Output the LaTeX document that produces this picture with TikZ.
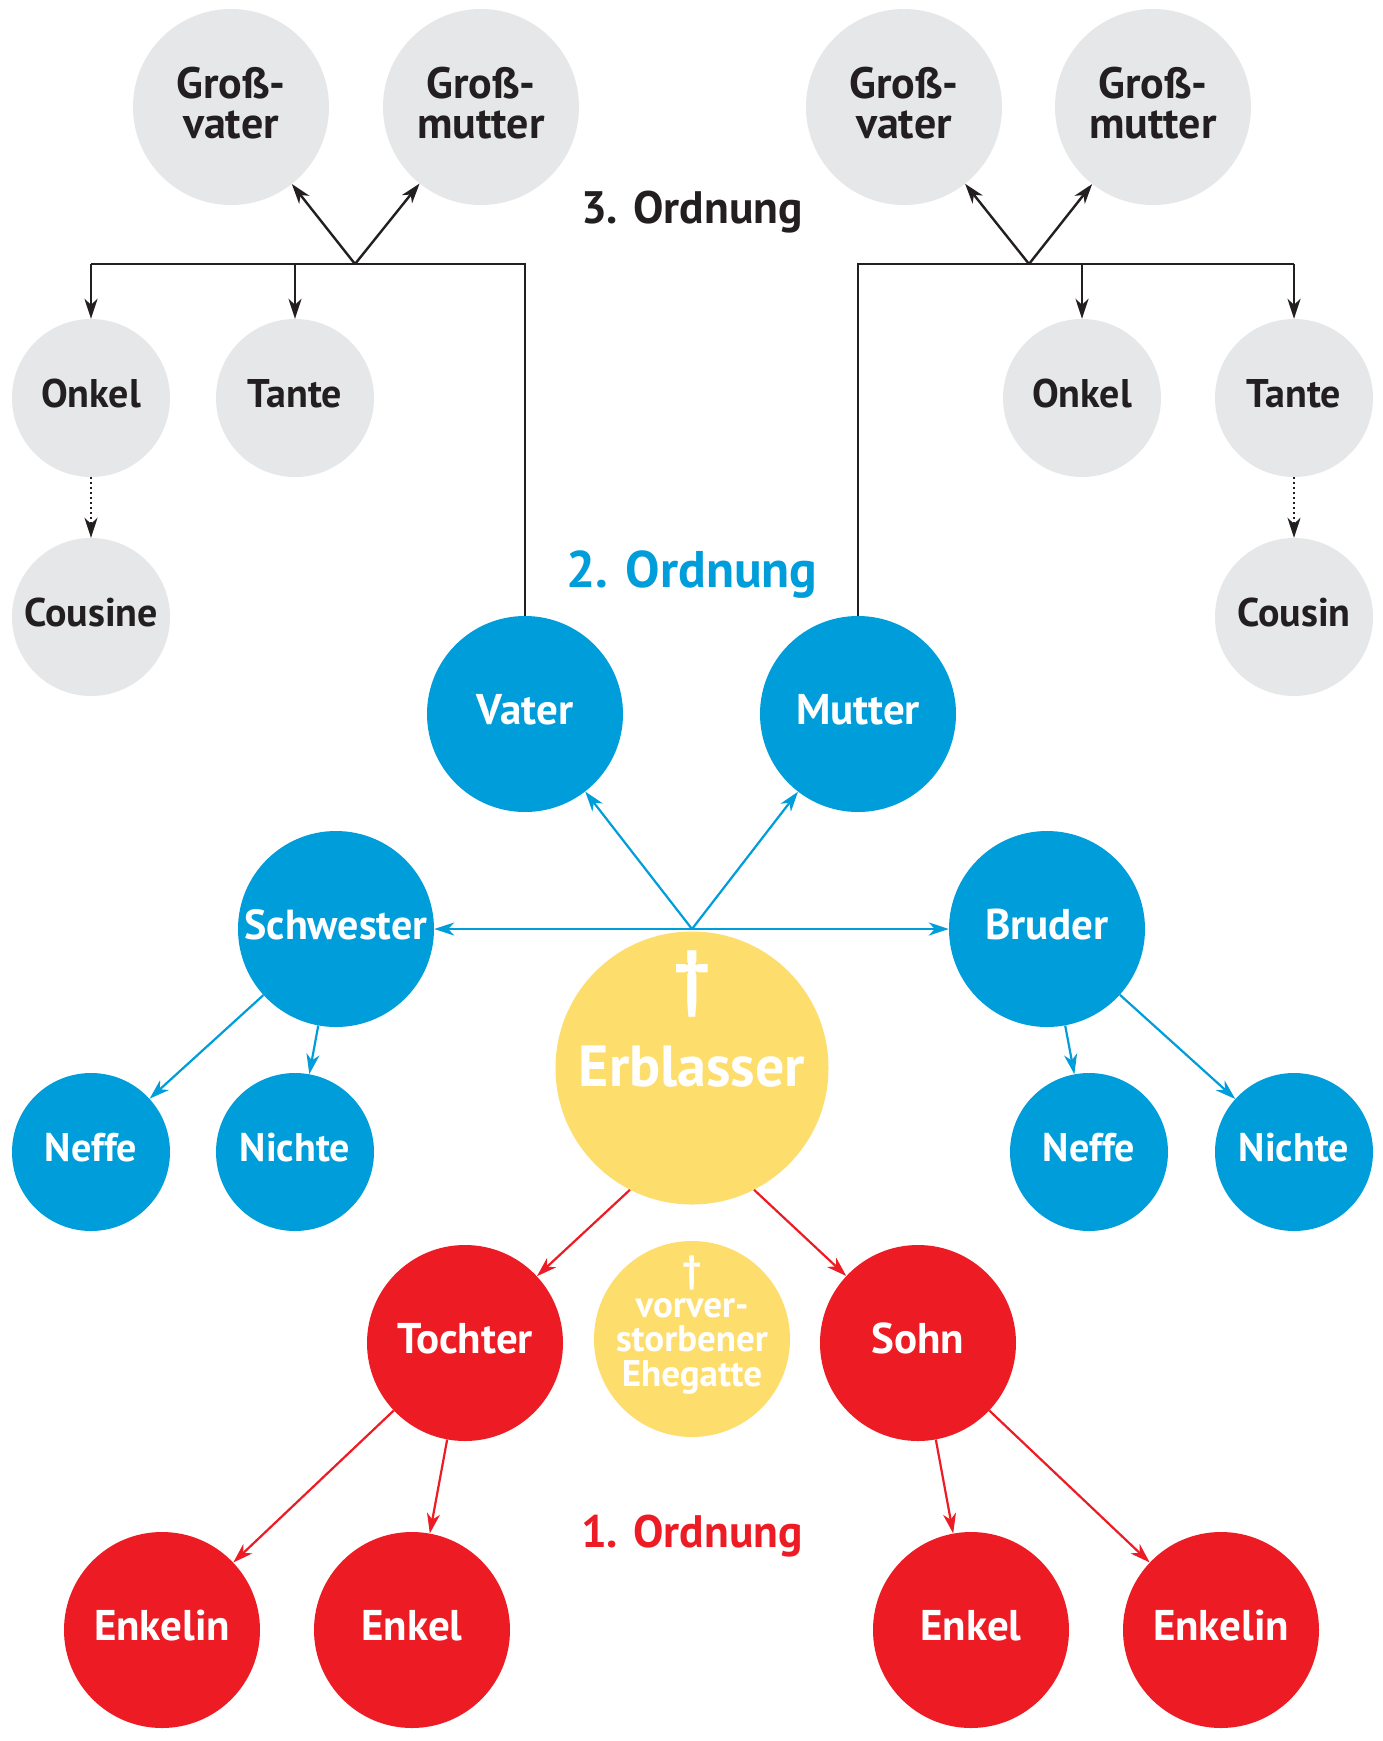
\documentclass[tikz,border=0pt]{standalone}
\usepackage{fontspec}
\setmainfont{PT Sans}
\usetikzlibrary{arrows.meta}
\definecolor{gr}{HTML}{E6E7E8}
\definecolor{bl}{HTML}{009DDB}
\definecolor{rd}{HTML}{ED1C24}
\definecolor{ye}{HTML}{FDDD6C}
\definecolor{tx}{HTML}{231F20}
\begin{document}
\begin{tikzpicture}[x=1pt,y=-1pt,
 bigc/.style={circle,minimum size=196pt,inner sep=0pt,align=center,text depth=9pt,font=\bfseries\fontsize{43}{39}\selectfont},
 smallc/.style={circle,minimum size=158pt,inner sep=0pt,align=center,text depth=9pt,font=\bfseries\fontsize{40}{39}\selectfont},
 gnode/.style={fill=gr,text=tx},
 bnode/.style={fill=bl,text=white},
 rnode/.style={fill=rd,text=white},
 arr/.style={-{Stealth[length=20pt,width=13pt,inset=6pt]}},
 blk/.style={draw=tx,line width=2.4pt},
 bln/.style={draw=bl,line width=2.2pt},
 rln/.style={draw=rd,line width=2.2pt},
 ord/.style={font=\bfseries\fontsize{45.5}{45}\selectfont},
 gross/.style={font=\bfseries\fontsize{44}{40}\selectfont}
]
\useasboundingbox[fill=white] (0,0) rectangle (1383,1741);

% 3. Ordnung
\node[bigc,gnode,gross] (gvL) at (231,107) {Groß-\\vater};
\node[bigc,gnode,gross] (gmL) at (481,107) {Groß-\\mutter};
\node[bigc,gnode,gross] (gvR) at (904,107) {Groß-\\vater};
\node[bigc,gnode,gross] (gmR) at (1153,107) {Groß-\\mutter};
\node[smallc,gnode] (oL) at (91,398) {Onkel};
\node[smallc,gnode] (tL) at (295,398) {Tante};
\node[smallc,gnode] (cL) at (91,617) {Cousine};
\node[smallc,gnode] (oR) at (1082,398) {Onkel};
\node[smallc,gnode] (tR) at (1294,398) {Tante};
\node[smallc,gnode] (cR) at (1294,617) {Cousin};
\node[ord,text=tx] (o3) at (692,212) {3. Ordnung};

% 2. Ordnung
\node[ord,text=bl,font=\bfseries\fontsize{51.5}{50}\selectfont] (o2) at (692,575) {2. Ordnung};
\node[bigc,bnode] (V) at (525,714) {Vater};
\node[bigc,bnode] (M) at (858,714) {Mutter};
\node[bigc,bnode,font=\bfseries\fontsize{42}{39}\selectfont] (S) at (336,929) {Schwester};
\node[bigc,bnode] (B) at (1047,929) {Bruder};
\node[smallc,bnode] (nL) at (91,1152) {Neffe};
\node[smallc,bnode] (niL) at (295,1152) {Nichte};
\node[smallc,bnode] (nR) at (1089,1152) {Neffe};
\node[smallc,bnode] (niR) at (1294,1152) {Nichte};

% Erblasser
\node[circle,minimum size=273pt,inner sep=0pt,fill=ye,text=white,font=\bfseries\fontsize{58}{58}\selectfont,text depth=4pt] (E) at (692,1068) {Erblasser};
\node[text=white,font=\bfseries\fontsize{74}{74}\selectfont,inner sep=0pt] (Ed) at (692,984) {†};
\node[circle,minimum size=196pt,inner sep=0pt,fill=ye] (H) at (692,1339) {};
\node[text=white,align=center,inner sep=0pt,font=\bfseries\fontsize{37}{34.5}\selectfont] (Ht) at (692,1325) {\fontsize{38}{30}\selectfont †\\vorver-\\storbener\\Ehegatte};

% 1. Ordnung
\node[bigc,rnode] (T) at (465,1343) {Tochter};
\node[bigc,rnode] (So) at (918,1343) {Sohn};
\node[bigc,rnode] (ekiL) at (162,1630) {Enkelin};
\node[bigc,rnode] (ekL) at (412,1630) {Enkel};
\node[bigc,rnode] (ekR) at (971,1630) {Enkel};
\node[bigc,rnode] (ekiR) at (1221,1630) {Enkelin};
\node[ord,text=rd] (o1) at (692,1536) {1. Ordnung};

% black connectors
\coordinate (jL) at (355,264);
\coordinate (jR) at (1029,264);
\draw[blk] (V.north) -- (V.north |- jL) -- (oL.north |- jL);
\draw[blk,arr] (oL.north |- jL) -- (oL.north);
\draw[blk,arr] (tL.north |- jL) -- (tL.north);
\draw[blk,arr] (jL) -- (gvL);
\draw[blk,arr] (jL) -- (gmL);
\draw[blk] (M.north) -- (M.north |- jR) -- (tR.north |- jR);
\draw[blk,arr] (tR.north |- jR) -- (tR.north);
\draw[blk,arr] (oR.north |- jR) -- (oR.north);
\draw[blk,arr] (jR) -- (gvR);
\draw[blk,arr] (jR) -- (gmR);
\draw[draw=tx,line width=2pt,dash pattern=on 2pt off 3pt,arr] (oL) -- (cL);
\draw[draw=tx,line width=2pt,dash pattern=on 2pt off 3pt,arr] (tR) -- (cR);

% blue connectors
\coordinate (jB) at (692,929);
\draw[bln,arr] (jB) -- (V);
\draw[bln,arr] (jB) -- (M);
\draw[bln,arr] (jB) -- (S);
\draw[bln,arr] (jB) -- (B);
\draw[bln,arr] (S) -- (nL);
\draw[bln,arr] (S) -- (niL);
\draw[bln,arr] (B) -- (nR);
\draw[bln,arr] (B) -- (niR);

% red connectors
\draw[rln,arr] (E.243) -- (T);
\draw[rln,arr] (E.297) -- (So);
\draw[rln,arr] (T) -- (ekiL);
\draw[rln,arr] (T) -- (ekL);
\draw[rln,arr] (So) -- (ekR);
\draw[rln,arr] (So) -- (ekiR);
\end{tikzpicture}
\end{document}
